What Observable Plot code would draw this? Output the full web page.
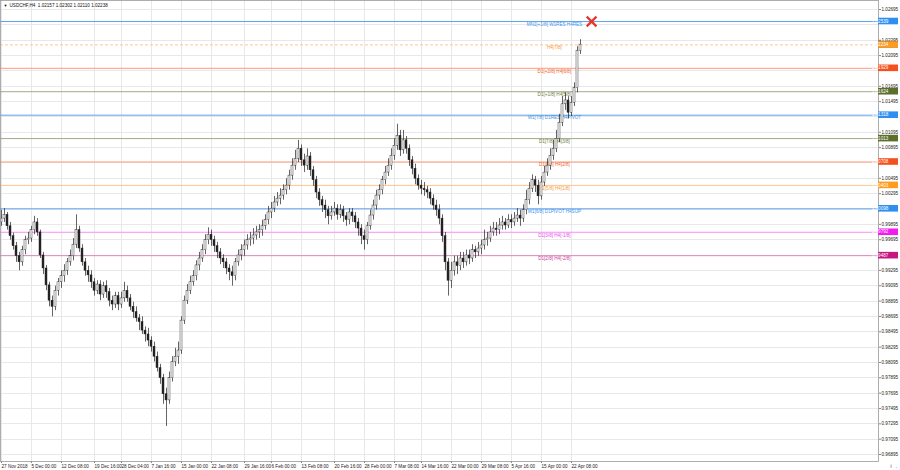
<!DOCTYPE html>
<html><head><meta charset="utf-8">
<script src="https://cdn.jsdelivr.net/npm/d3@7"></script>
<script src="https://cdn.jsdelivr.net/npm/@observablehq/plot@0.6"></script>
<style>
html,body{margin:0;padding:0;background:#fff;}
#chart svg{display:block;}
</style>
</head><body><div id="chart"></div>
<script>
const symbolName = "USDCHF,H4";
const firstOpen = 0.9992;
const closes = [
0.9997,1.0002,0.9987,0.9974,0.9961,0.9948,0.9940,0.9956,0.9969,0.9971,
0.9982,0.9992,0.9979,0.9949,0.9932,0.9910,0.9890,0.9882,0.9903,0.9914,
0.9922,0.9929,0.9940,0.9948,0.9963,0.9982,0.9958,0.9940,0.9929,0.9923,
0.9914,0.9903,0.9911,0.9898,0.9909,0.9901,0.9890,0.9885,0.9896,0.9885,
0.9893,0.9903,0.9893,0.9882,0.9875,0.9867,0.9862,0.9851,0.9846,0.9838,
0.9830,0.9817,0.9802,0.9789,0.9768,0.9760,0.9789,0.9810,0.9817,0.9825,
0.9864,0.9890,0.9903,0.9914,0.9922,0.9936,0.9945,0.9956,0.9969,0.9976,
0.9969,0.9961,0.9953,0.9945,0.9940,0.9932,0.9927,0.9922,0.9940,0.9949,
0.9956,0.9962,0.9969,0.9971,0.9975,0.9979,0.9982,0.9987,0.9995,1.0005,
1.0010,1.0018,1.0023,1.0027,1.0034,1.0040,1.0053,1.0066,1.0075,1.0088,
1.0073,1.0066,1.0078,1.0060,1.0047,1.0031,1.0021,1.0014,1.0008,1.0000,
1.0005,1.0010,1.0002,1.0008,1.0000,0.9995,1.0005,1.0000,0.9992,0.9984,
0.9974,0.9969,0.9987,1.0001,1.0014,1.0027,1.0034,1.0047,1.0057,1.0066,
1.0079,1.0092,1.0105,1.0086,1.0099,1.0088,1.0073,1.0062,1.0049,1.0040,
1.0036,1.0034,1.0031,1.0023,1.0014,1.0008,0.9997,0.9974,0.9940,0.9916,
0.9929,0.9940,0.9935,0.9945,0.9940,0.9949,0.9945,0.9956,0.9953,0.9958,
0.9962,0.9969,0.9971,0.9979,0.9984,0.9982,0.9988,0.9992,0.9988,0.9995,
0.9992,0.9997,1.0001,0.9997,1.0008,1.0021,1.0036,1.0047,1.0040,1.0026,
1.0044,1.0057,1.0066,1.0079,1.0088,1.0101,1.0122,1.0146,1.0151,1.0135,
1.0148,1.0167,1.02157,1.02238];
const highs = [
1.0008,1.0010,1.0005,0.9992,0.9978,0.9966,0.9953,0.9961,0.9974,0.9979,
0.9987,1.0000,0.9997,0.9982,0.9953,0.9936,0.9914,0.9896,0.9909,0.9919,
0.9929,0.9937,0.9945,0.9956,0.9971,1.0002,0.9987,0.9963,0.9945,0.9935,
0.9929,0.9919,0.9916,0.9916,0.9914,0.9916,0.9906,0.9896,0.9901,0.9901,
0.9901,0.9914,0.9909,0.9898,0.9888,0.9882,0.9872,0.9869,0.9856,0.9854,
0.9843,0.9836,0.9823,0.9807,0.9794,0.9776,0.9797,0.9817,0.9828,0.9836,
0.9869,0.9896,0.9911,0.9922,0.9929,0.9942,0.9953,0.9963,0.9976,0.9985,
0.9982,0.9974,0.9966,0.9958,0.9950,0.9945,0.9937,0.9935,0.9945,0.9956,
0.9963,0.9969,0.9976,0.9979,0.9984,0.9987,0.9989,0.9995,1.0002,1.0013,
1.0018,1.0026,1.0031,1.0036,1.0041,1.0049,1.0060,1.0075,1.0086,1.0099,
1.0093,1.0081,1.0088,1.0083,1.0065,1.0052,1.0036,1.0026,1.0021,1.0013,
1.0013,1.0018,1.0015,1.0015,1.0013,1.0005,1.0010,1.0010,1.0005,0.9997,
0.9989,0.9982,0.9992,1.0008,1.0021,1.0034,1.0041,1.0052,1.0065,1.0075,
1.0088,1.0101,1.0120,1.0112,1.0112,1.0104,1.0093,1.0078,1.0068,1.0054,
1.0047,1.0044,1.0039,1.0036,1.0028,1.0021,1.0015,1.0002,0.9979,0.9945,
0.9940,0.9948,0.9948,0.9953,0.9953,0.9956,0.9956,0.9963,0.9961,0.9966,
0.9969,0.9982,0.9979,0.9987,0.9992,0.9992,0.9997,1.0000,0.9997,1.0002,
1.0002,1.0005,1.0010,1.0008,1.0015,1.0034,1.0044,1.0054,1.0052,1.0047,
1.0052,1.0065,1.0075,1.0088,1.0099,1.0112,1.0133,1.0156,1.0161,1.0156,
1.0156,1.0174,1.0221,1.02302];
const lows = [
0.9987,0.9992,0.9982,0.9969,0.9956,0.9940,0.9929,0.9935,0.9950,0.9963,
0.9966,0.9976,0.9974,0.9945,0.9924,0.9903,0.9882,0.9869,0.9877,0.9896,
0.9906,0.9914,0.9923,0.9935,0.9942,0.9958,0.9953,0.9935,0.9922,0.9914,
0.9906,0.9896,0.9898,0.9890,0.9893,0.9893,0.9882,0.9877,0.9880,0.9877,
0.9880,0.9888,0.9888,0.9877,0.9867,0.9862,0.9851,0.9846,0.9836,0.9830,
0.9823,0.9810,0.9797,0.9781,0.9755,0.9726,0.9755,0.9784,0.9804,0.9807,
0.9820,0.9859,0.9885,0.9898,0.9909,0.9916,0.9929,0.9940,0.9950,0.9963,
0.9961,0.9953,0.9945,0.9937,0.9932,0.9924,0.9916,0.9909,0.9916,0.9935,
0.9942,0.9948,0.9956,0.9961,0.9963,0.9969,0.9971,0.9974,0.9982,0.9989,
0.9997,1.0005,1.0013,1.0015,1.0021,1.0028,1.0034,1.0047,1.0060,1.0070,
1.0065,1.0057,1.0060,1.0052,1.0039,1.0023,1.0013,1.0005,0.9997,0.9989,
0.9995,1.0000,0.9995,0.9997,0.9992,0.9987,0.9989,0.9992,0.9984,0.9974,
0.9963,0.9956,0.9963,0.9982,0.9995,1.0008,1.0021,1.0028,1.0041,1.0052,
1.0060,1.0073,1.0086,1.0078,1.0081,1.0081,1.0065,1.0054,1.0041,1.0034,
1.0028,1.0026,1.0023,1.0015,1.0008,1.0000,0.9989,0.9966,0.9929,0.9896,
0.9906,0.9922,0.9924,0.9929,0.9932,0.9935,0.9937,0.9940,0.9945,0.9948,
0.9950,0.9956,0.9961,0.9966,0.9974,0.9974,0.9976,0.9982,0.9982,0.9984,
0.9984,0.9987,0.9992,0.9987,0.9992,1.0002,1.0015,1.0031,1.0031,1.0015,
1.0021,1.0039,1.0052,1.0060,1.0073,1.0083,1.0096,1.0117,1.0138,1.0127,
1.0130,1.0143,1.0161,1.02110];

const priceTicks = [0.96895,0.97095,0.97295,0.97495,0.97695,0.97895,0.98095,0.98295,0.98495,0.98695,
0.98895,0.99095,0.99295,0.99495,0.99695,0.99895,1.00095,1.00295,1.00495,1.00695,
1.00895,1.01095,1.01295,1.01495,1.01695,1.01895,1.02095,1.02295,1.02495,1.02695];
const dateTickBars = [0,10,20,31,40,50,60,70,81,90,100,111,121,131,140,150,160,170,180,190];
const dateTickLabels = ["27 Nov 2018","5 Dec 00:00","12 Dec 08:00","19 Dec 16:00","28 Dec 04:00","7 Jan 16:00",
"15 Jan 00:00","22 Jan 08:00","29 Jan 16:00","6 Feb 00:00","13 Feb 08:00","20 Feb 16:00","28 Feb 00:00",
"7 Mar 08:00","14 Mar 16:00","22 Mar 00:00","29 Mar 08:00","5 Apr 16:00","15 Apr 00:00","22 Apr 08:00"];

const levelPrices = [1.02539,1.02234,1.01929,1.01624,1.01318,1.01013,1.00708,1.00403,1.00098,0.99792,0.99487];
const levelLabels = ["MN1[+1/8] W1RES H4RES","H4[7/8]","D1[+2/8] H4[6/8]","D1[+1/8] H4[5/8]","W1[7/8] D1RES H4PIVOT",
"D1[7/8] H4[3/8]","D1[6/8] H4[2/8]","D1[5/8] H4[1/8]","W1[6/8] D1PIVOT H4SUP","D1[3/8] H4[-1/8]","D1[2/8] H4[-2/8]"];
const levelKinds = ["blue","orange","red","olive","blue","olive","red","orange","blue","magenta","violet"];

// styles
const lineColor = {blue:"#5fa2ee", orange:"#ffc48c", red:"#ff9a78", olive:"#a3aa88", magenta:"#f590f5", violet:"#dc86bf"};
const textColor = {blue:"#3d95ea", orange:"#f59a3a", red:"#f2642e", olive:"#6f7d3c", magenta:"#e84ce8", violet:"#c8409a"};
const boxColor  = {blue:"#2f8ff0", orange:"#ff9b1f", red:"#f4511e", olive:"#5b6e2c", magenta:"#f21cf2", violet:"#c4177f"};
const dashed = {"H4[7/8]": "3,2"};

const labelBar = 184.3;
const markerBar = 196.7;
const markerLevel = 0;

const bars = closes.map((c, i) => ({
  i, close: c, high: highs[i], low: lows[i], open: i === 0 ? firstOpen : closes[i - 1]
}));
const upBars = bars.filter(d => d.close >= d.open);
const downBars = bars.filter(d => d.close < d.open);
const levels = levelPrices.map((p, k) => ({
  price: p, label: levelLabels[k], kind: levelKinds[k]
}));
const labelMap = new Map(dateTickBars.map((b, k) => [b, dateTickLabels[k]]));
const last = bars[bars.length - 1];
const fmt = d3.format(".5f");
const title = `${symbolName}  ${fmt(last.open)} ${fmt(last.high)} ${fmt(last.low)} ${fmt(last.close)}`;
// price-axis labels that the level boxes hide are not shown
const visibleTicks = priceTicks.filter(t => levelPrices.every(p => Math.abs(p - t) > 0.0005));

const levelMarks = levels.flatMap(l => [
  Plot.ruleY([l], {y: "price", stroke: lineColor[l.kind], strokeWidth: 1,
    strokeDasharray: dashed[l.label] || null}),
  Plot.text([l], {x: () => labelBar, y: "price", text: "label", fill: textColor[l.kind],
    lineAnchor: "top", dy: 1, fontSize: 4.6})
]);

const FONT = "'Liberation Sans', Arial, sans-serif";
const chart = Plot.plot({
  width: 900, height: 470,
  marginLeft: 0, marginRight: 22, marginTop: 0, marginBottom: 9,
  style: {fontFamily: FONT, fontSize: "4.6px", background: "#fff", overflow: "visible"},
  x: {domain: [-1/3, 292 + 1/3], axis: null},
  y: {domain: [0.96804, 1.02813], axis: null},
  marks: [
    Plot.ruleY(priceTicks, {stroke: "#e8e8e8", strokeWidth: 1, shapeRendering: "crispEdges"}),
    Plot.ruleX(dateTickBars, {stroke: "#e8e8e8", strokeWidth: 1, shapeRendering: "crispEdges"}),
    ...levelMarks,
    Plot.ruleX(bars, {x: "i", y1: "low", y2: "high", stroke: "#222", strokeWidth: 0.7}),
    Plot.rect(upBars, {x1: d => d.i - 0.33, x2: d => d.i + 0.33, y1: "open", y2: "close",
      fill: "#fff", stroke: "#222", strokeWidth: 0.45}),
    Plot.rect(downBars, {x1: d => d.i - 0.33, x2: d => d.i + 0.33, y1: "open", y2: "close",
      fill: "#222", stroke: "#222", strokeWidth: 0.45}),
    Plot.dot([levels[markerLevel]], {x: () => markerBar, y: "price", symbol: "times", r: 4.5,
      stroke: "#e8352b", strokeWidth: 2.2}),
    Plot.axisY({anchor: "right", ticks: visibleTicks, tickFormat: fmt, tickSize: 2, tickPadding: 1,
      fontSize: 4.6, fill: "#222", stroke: "#888"}),
    Plot.axisX({ticks: dateTickBars, tickFormat: d => labelMap.get(d), textAnchor: "start",
      tickSize: 2, tickPadding: 1, fontSize: 4.6, fill: "#222", stroke: "#888"}),
    Plot.frame({stroke: "#9a9a9a", strokeWidth: 0.8}),
    Plot.text([title], {frameAnchor: "top-left", dx: 9, dy: 5, text: d => d, fontSize: 4.6,
      fill: "#111", lineAnchor: "middle"}),
    Plot.text(["▼"], {frameAnchor: "top-left", dx: 3, dy: 5, text: d => d, fontSize: 4,
      fill: "#111", lineAnchor: "middle"})
  ]
});

// price boxes on the right axis, positioned with the plot's own y scale
const ys = chart.scale("y");
const svg = d3.select(chart);
const g = svg.append("g").attr("font-family", FONT).attr("font-size", 4.6);
const boxes = [{price: last.close, fill: "#111"}].concat(levels.map(l => ({price: l.price, fill: boxColor[l.kind]})));
for (const b of boxes) {
  const yy = ys.apply(b.price);
  g.append("rect").attr("x", 878).attr("y", yy - 3.3).attr("width", 20).attr("height", 6.6).attr("fill", b.fill);
  g.append("text").attr("x", 880).attr("y", yy).attr("dy", "0.35em").attr("fill", "#fff").text(fmt(b.price));
}
document.getElementById("chart").appendChild(chart);
</script>
</body></html>
